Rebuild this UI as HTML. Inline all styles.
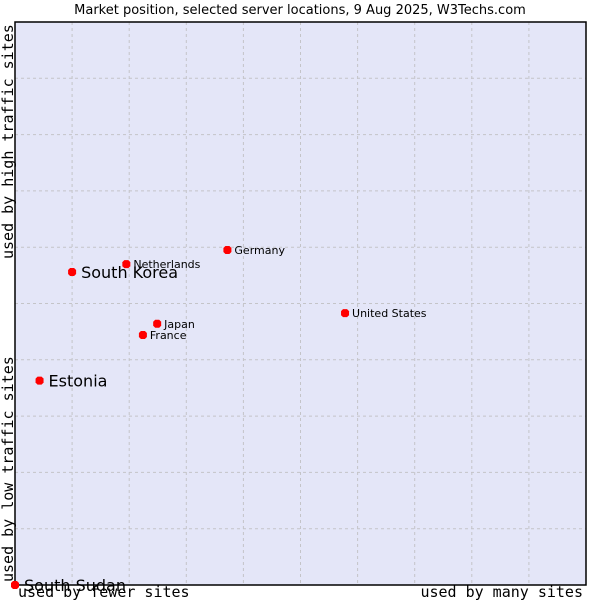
<!DOCTYPE html>
<html><head><meta charset="utf-8"><style>
body{margin:0;background:#fff;width:600px;height:600px;overflow:hidden}
svg{display:block}
</style></head><body>
<svg id="chart" width="600" height="600" xmlns="http://www.w3.org/2000/svg">
<text x="300" y="14" text-anchor="middle" font-family="DejaVu Sans, sans-serif" font-size="13" fill="#000">Market position, selected server locations, 9 Aug 2025, W3Techs.com</text>
<rect x="15" y="22" width="571" height="563" fill="#e4e6f8"/>
<g id="grid"></g>
<rect x="15" y="22" width="571" height="563" fill="none" stroke="#000" stroke-width="1.5"/>
<g id="points"></g>
<text x="18" y="597" font-family="DejaVu Sans Mono, monospace" font-size="15" fill="#000">used by fewer sites</text>
<text x="583" y="597" text-anchor="end" font-family="DejaVu Sans Mono, monospace" font-size="15" fill="#000">used by many sites</text>
<text transform="translate(13,582) rotate(-90)" font-family="DejaVu Sans Mono, monospace" font-size="15" fill="#000">used by low traffic sites</text>
<text transform="translate(13,259) rotate(-90)" font-family="DejaVu Sans Mono, monospace" font-size="15" fill="#000">used by high traffic sites</text>
</svg>
<script>
const names = ["South Korea","Netherlands","Germany","United States","Japan","France","Estonia","South Sudan"];
const xValues = [1.0, 1.95, 3.72, 5.78, 2.49, 2.24, 0.43, 0.0];
const yValues = [5.56, 5.70, 5.95, 4.83, 4.64, 4.44, 3.63, 0.0];
const bigLabel = [true,false,false,false,false,false,true,true];
const NS="http://www.w3.org/2000/svg";
const L=15,T=22,W=571,H=563;
function sx(v){return L+v/10*W;}
function sy(v){return T+H-v/10*H;}
const grid=document.getElementById('grid');
for(let i=1;i<10;i++){
  const vl=document.createElementNS(NS,'line');
  
  
  vl.setAttribute('x1',sx(i));vl.setAttribute('x2',sx(i));vl.setAttribute('y1',T);vl.setAttribute('y2',T+H);
  vl.setAttribute('stroke','#c4c4c8');vl.setAttribute('stroke-dasharray','3,3');
  grid.appendChild(vl);
  const hl=document.createElementNS(NS,'line');
  
  
  hl.setAttribute('y1',sy(i));hl.setAttribute('y2',sy(i));hl.setAttribute('x1',L);hl.setAttribute('x2',L+W);
  hl.setAttribute('stroke','#c4c4c8');hl.setAttribute('stroke-dasharray','3,3');
  grid.appendChild(hl);
}
const pts=document.getElementById('points');
names.forEach((n,i)=>{
  const x=sx(xValues[i]),y=sy(yValues[i]);
  const d=document.createElementNS(NS,'polygon');
  
  
  d.setAttribute('points',`${x-4},${y-2} ${x-2},${y-4} ${x+2},${y-4} ${x+4},${y-2} ${x+4},${y+2} ${x+2},${y+4} ${x-2},${y+4} ${x-4},${y+2}`);
  d.setAttribute('fill','#ff0000');
  pts.appendChild(d);
  const t=document.createElementNS(NS,'text');
  
  
  t.setAttribute('x',x+(bigLabel[i]?9:7));
  t.setAttribute('y',y+(bigLabel[i]?6:4));
  t.setAttribute('font-family','DejaVu Sans, sans-serif');
  t.setAttribute('font-size',bigLabel[i]?'16':'11');
  t.setAttribute('fill','#000');
  t.textContent=n;
  pts.appendChild(t);
});
</script>
</body></html>
